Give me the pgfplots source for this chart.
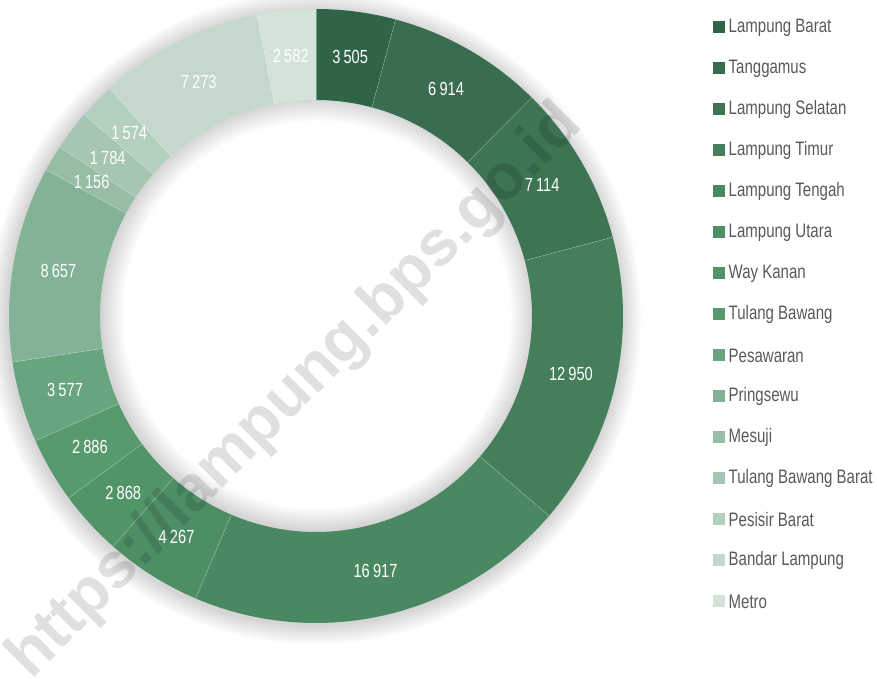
\documentclass[border=0pt]{standalone}
\usepackage{pgfplots}
\pgfplotsset{compat=1.18}
\usepackage{pgfplotstable}
\usepackage{fontspec}
\setmainfont{Liberation Sans}[FakeStretch=0.77]
\newfontfamily\wmfont{Liberation Sans}

\definecolor{c0}{HTML}{2F6447}
\definecolor{c1}{HTML}{3A6D4F}
\definecolor{c2}{HTML}{3D7452}
\definecolor{c3}{HTML}{447E5A}
\definecolor{c4}{HTML}{4A8862}
\definecolor{c5}{HTML}{4D8E65}
\definecolor{c6}{HTML}{519468}
\definecolor{c7}{HTML}{569A6D}
\definecolor{c8}{HTML}{68A47D}
\definecolor{c9}{HTML}{82B396}
\definecolor{c10}{HTML}{97BDA5}
\definecolor{c11}{HTML}{A6C6B2}
\definecolor{c12}{HTML}{B3CFBD}
\definecolor{c13}{HTML}{C5D8CC}
\definecolor{c14}{HTML}{D3E3D9}
\definecolor{legtext}{HTML}{595959}

\pgfplotstableread[col sep=comma]{
name,value
Lampung Barat,3505
Tanggamus,6914
Lampung Selatan,7114
Lampung Timur,12950
Lampung Tengah,16917
Lampung Utara,4267
Way Kanan,2868
Tulang Bawang,2886
Pesawaran,3577
Pringsewu,8657
Mesuji,1156
Tulang Bawang Barat,1784
Pesisir Barat,1574
Bandar Lampung,7273
Metro,2582
}\datatable

\begin{document}
\begin{tikzpicture}
\useasboundingbox (0,0) rectangle (877pt,678pt);
% cumulative sums
\gdef\cum{0}
\pgfplotsforeachungrouped \i in {0,...,14}{%
  \pgfplotstablegetelem{\i}{value}\of\datatable
  \expandafter\xdef\csname v\i\endcsname{\pgfplotsretval}%
  \expandafter\xdef\csname s\i\endcsname{\cum}%
  \xdef\cum{\the\numexpr\cum+\pgfplotsretval\relax}%
  \expandafter\xdef\csname e\i\endcsname{\cum}%
  \pgfplotstablegetelem{\i}{name}\of\datatable
  \expandafter\xdef\csname n\i\endcsname{\pgfplotsretval}%
}
\xdef\total{\cum}
\pgfplotsforeachungrouped \i in {0,...,14}{%
  \expandafter\xdef\csname aS\i\endcsname{\fpeval{round(90-\csname s\i\endcsname/\total*360,4)}}%
  \expandafter\xdef\csname aE\i\endcsname{\fpeval{round(90-\csname e\i\endcsname/\total*360,4)}}%
  \expandafter\xdef\csname aM\i\endcsname{\fpeval{round(90-(\csname s\i\endcsname+\csname e\i\endcsname)/2/\total*360,4)}}%
}
\begin{axis}[
  at={(0,0)}, anchor=origin,
  x=1pt, y=1pt, xmin=0, xmax=877, ymin=0, ymax=678,
  hide axis, clip=false,
]
% outer soft shadow
\pgfplotsinvokeforeach{1,...,14}{
  \fill[black, opacity=0.010, even odd rule] (axis cs:315,360) circle[radius={(307+#1*1.4)*1pt}] (axis cs:316,362) circle[radius=306.5pt];
}
% inner soft shadow
\pgfplotsinvokeforeach{1,...,14}{
  \fill[black, opacity=0.011, even odd rule] (axis cs:316,362) circle[radius=216.5pt] (axis cs:317,363) circle[radius={(216-#1*1.6)*1pt}];
}
% ring segments
\pgfplotsinvokeforeach{0,...,14}{
  \fill[c#1] ([shift={(\csname aS#1\endcsname:307pt)}]axis cs:316,362)
     arc[start angle=\csname aS#1\endcsname, end angle=\csname aE#1\endcsname, radius=307pt]
     -- ([shift={(\csname aE#1\endcsname:216pt)}]axis cs:316,362)
     arc[start angle=\csname aE#1\endcsname, end angle=\csname aS#1\endcsname, radius=216pt]
     -- cycle;
}
% separators
\pgfplotsinvokeforeach{0,...,14}{
  \draw[white, opacity=0.3, line width=0.5pt]
     ([shift={(\csname aS#1\endcsname:216pt)}]axis cs:316,362) -- ([shift={(\csname aS#1\endcsname:307pt)}]axis cs:316,362);
}
% data labels
\pgfplotsinvokeforeach{0,...,14}{
  \node[text=white, font=\fontsize{19}{19}\selectfont, inner sep=0pt]
    at ([shift={(\csname aM#1\endcsname:261.5pt)}]axis cs:316,362)
    {\pgfmathprintnumber[1000 sep={\,}, assume math mode=true]{\csname v#1\endcsname}};
}
% legend
\pgfplotsinvokeforeach{0,...,14}{
  \fill[c#1] (axis cs:713,{645-41*#1}) rectangle (axis cs:725,{657-41*#1});
  \node[anchor=west, text=legtext, font=\fontsize{19.5}{19.5}\selectfont, inner sep=0pt]
    at (axis cs:728.5,{650.5-41*#1}) {\csname n#1\endcsname};
}
% watermark
\node[rotate=45, text=black, text opacity=0.12, font=\wmfont\bfseries\fontsize{64}{64}\selectfont, inner sep=0pt]
  at (axis cs:296,286) {https://lampung.bps.go.id};
\end{axis}
\end{tikzpicture}
\end{document}
